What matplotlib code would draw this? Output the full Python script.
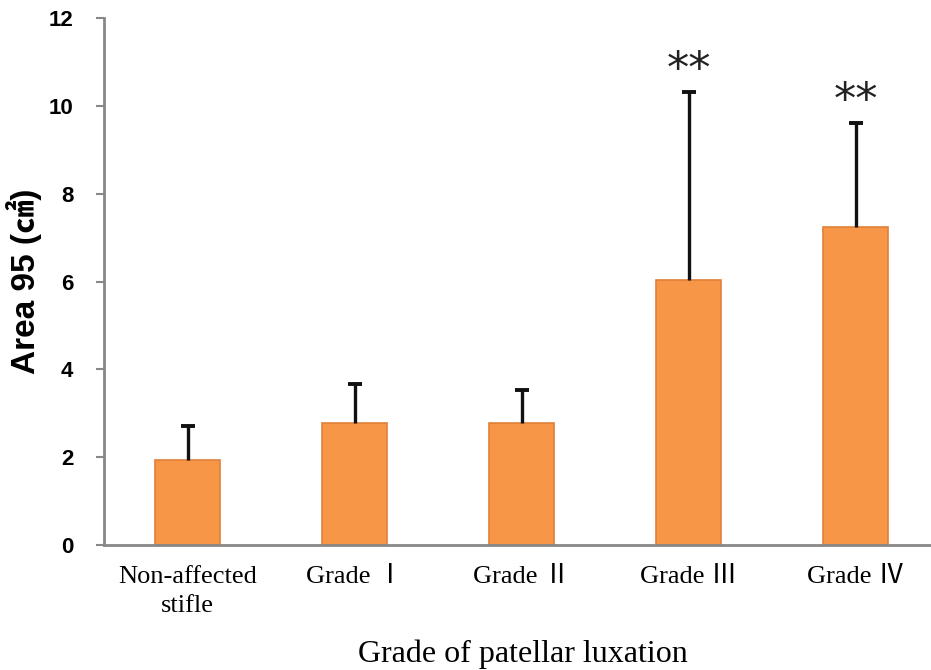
import matplotlib
matplotlib.use("Agg")
import matplotlib.pyplot as plt
import numpy as np

categories = ["Non-affected\nstifle", "Grade Ⅰ", "Grade Ⅱ", "Grade Ⅲ", "Grade Ⅳ"]
means = [1.94, 2.78, 2.78, 6.04, 7.25]
upper_err = [0.77, 0.89, 0.76, 4.28, 2.35]
signif = ["", "", "", "**", "**"]
yticks = [0, 2, 4, 6, 8, 10, 12]

fig = plt.figure(figsize=(9.31, 6.70), dpi=100)
ax = fig.add_axes([104/931, 1 - 545/670, 1 - 104/931, (545 - 18)/670])

x = np.arange(len(categories))
bars = ax.bar(x, means, width=0.39, color="#F79646", edgecolor="#E0803A", linewidth=1.2, zorder=2)
eb = ax.errorbar(x, means, yerr=[np.zeros(len(means)), upper_err], fmt="none",
                 ecolor="#111111", elinewidth=2.4, capsize=5, capthick=2.8, zorder=3)
# hide the lower caps (only upper error bars are shown)
caps = eb[1]
if len(caps) >= 2:
    caps[0].set_visible(False)

for xi, m, e, s in zip(x, means, upper_err, signif):
    if s:
        ax.text(xi, m + e + 0.0, s, ha="center", va="bottom", fontsize=32,
                family=["DejaVu Sans"], color="#222222")

ax.set_xlim(-0.5, 4.45)
ax.set_ylim(0, 12)
ax.set_yticks(yticks)
ax.set_yticklabels([str(t) for t in yticks], fontsize=16, fontweight="bold",
                   family=["Liberation Sans"])
ax.set_xticks(x)
ax.set_xticklabels(categories, fontsize=19, family=["Liberation Serif", "Noto Sans CJK KR"],
                   linespacing=1.45)
ax.tick_params(axis="x", length=0, pad=15)
ax.tick_params(axis="y", length=6, width=1.5, color="#888888", pad=16)

for sp in ["top", "right"]:
    ax.spines[sp].set_visible(False)
for sp in ["left", "bottom"]:
    ax.spines[sp].set_color("#888888")
    ax.spines[sp].set_linewidth(2)

ax.set_ylabel("Area 95 (㎠)", fontsize=24, fontweight="bold",
              family=["Liberation Sans", "Noto Sans CJK KR"])
ax.yaxis.set_label_coords(-0.075, 0.5)
ax.set_xlabel("Grade of patellar luxation", fontsize=23,
              family=["Liberation Serif"])
ax.xaxis.set_label_coords(0.507, -0.18)

fig.savefig("out.png", dpi=100)
